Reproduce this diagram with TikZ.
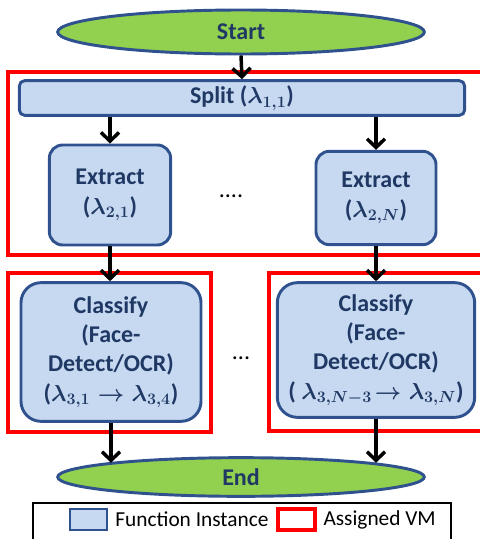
\documentclass[tikz,border=0pt]{standalone}
\usepackage{fontspec}
\setmainfont{Carlito}
\usetikzlibrary{shapes.geometric,arrows.meta}
\definecolor{navy}{RGB}{31,56,100}
\definecolor{boxblue}{RGB}{198,217,240}
\definecolor{edgeblue}{RGB}{47,82,143}
\definecolor{leafgreen}{RGB}{146,208,80}
\begin{document}
\begin{tikzpicture}[x=.75pt,y=-.75pt,line width=2.4pt,
  >={Straight Barb[length=6.5pt,width=13.5pt]},
  font=\fontsize{18}{22}\selectfont\bfseries\boldmath,
  fn/.style={draw=edgeblue,fill=boxblue,text=navy,align=center,inner sep=0pt,
    line width=2.2pt},
  term/.style={ellipse,draw=edgeblue,fill=leafgreen,text=navy,inner sep=0pt,
    minimum width=275pt,line width=2.2pt},
  vm/.style={draw=red,line width=2.4pt},
  flow/.style={->,line width=2.6pt}]
  \useasboundingbox (0,0) rectangle (479,539);
  \draw[vm] (8,72) rectangle (490,255);
  \draw[vm] (8,273) rectangle (211,432);
  \draw[vm] (269,273) rectangle (490,431);
  \node[term,minimum height=33pt] (start) at (241,32) {Start};
  \node[fn,rounded corners=4pt,minimum width=334pt,minimum height=26pt]
    (split) at (242,98) {Split ($\lambda_{1,1}$)};
  \node[fn,rounded corners=10pt,minimum width=91pt,minimum height=75pt]
    (extA) at (110,195) {Extract\\($\lambda_{2,1}$)};
  \node[fn,rounded corners=10pt,minimum width=90pt,minimum height=70pt]
    (extN) at (376,198) {Extract\\($\lambda_{2,N}$)};
  \node[fn,rounded corners=15pt,minimum width=135pt,minimum height=104pt]
    (clsA) at (111,352)
    {Classify\\(Face-\\Detect/OCR)\\($\lambda_{3,1}\rightarrow\lambda_{3,4}$)};
  \node[fn,rounded corners=15pt,minimum width=148pt,minimum height=101pt]
    (clsN) at (376,350)
    {Classify\\(Face-\\Detect/OCR)\\( $\lambda_{3,N-3}\!\rightarrow\lambda_{3,N}$)};
  \node[term,minimum height=29pt] (stop) at (241,477) {End};
  \node[font=\fontsize{18}{22}\selectfont] (dotsA) at (231,196) {....};
  \node[font=\fontsize{18}{22}\selectfont] (dotsB) at (241,358) {...};
  \draw[flow] (start.south) -- (split.north);
  \draw[flow] (split.south -| extA.north) -- (extA.north);
  \draw[flow] (split.south -| extN.north) -- (extN.north);
  \draw[flow] (extA.south) -- (extA.south |- clsA.north);
  \draw[flow] (extN.south) -- (extN.south |- clsN.north);
  \draw[flow] (clsA.south) -- (clsA.south |- stop.174);
  \draw[flow] (clsN.south) -- (clsN.south |- stop.6);
  \node[draw=black,line width=1.6pt,minimum width=313.5pt,minimum height=33pt,
    inner sep=0pt] (legend) at (242,525) {};
  \node[fn,minimum width=27.75pt,minimum height=15.75pt] (keyfn) at (88.5,519.5) {};
  \node[right,font=\fontsize{16}{19}\selectfont,inner sep=4pt]
    (keyfntext) at (keyfn.east) {Function Instance};
  \node[vm,minimum width=27.75pt,minimum height=15.75pt] (keyvm) at (296.5,519.5) {};
  \node[right,font=\fontsize{16}{19}\selectfont,inner sep=4pt]
    (keyvmtext) at (keyvm.east) {Assigned VM};
\end{tikzpicture}
\end{document}
